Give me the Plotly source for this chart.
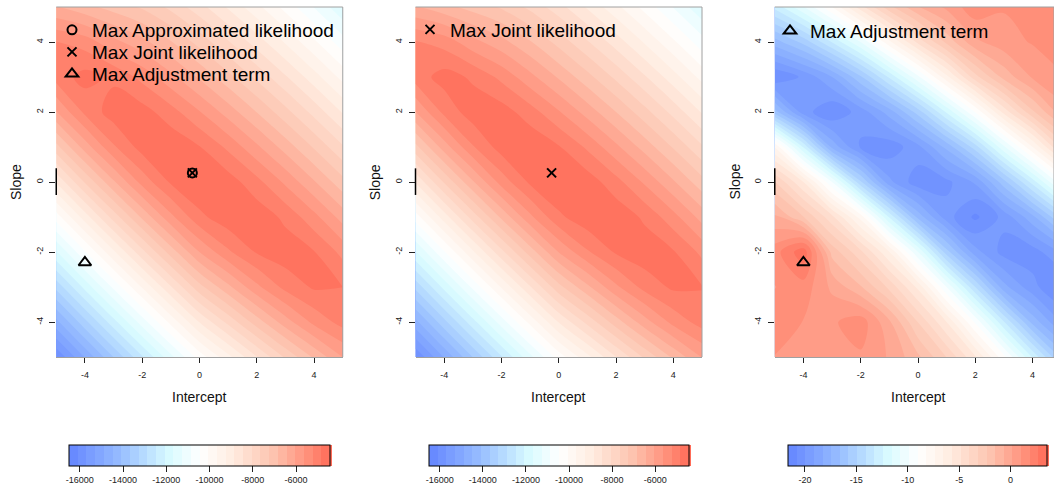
import numpy as np
import plotly.graph_objects as go

# Parameter grid (intercept along x, slope along y)
intercept = [-5, -4, -3, -2, -1, 0, 1, 2, 3, 4, 5]
slope = [-5, -4, -3, -2, -1, 0, 1, 2, 3, 4, 5]

# Joint log-likelihood surface; rows run from slope = -5 up to slope = 5
joint_loglik = [
    [-16063, -14859, -13679, -12523, -11391, -10283, -9380, -8465, -7574, -6761, -6015],
    [-14613, -13409, -12229, -11073, -9941, -8833, -7930, -7037, -6212, -5504, -5058],
    [-13163, -11959, -10779, -9623, -8491, -7383, -6536, -5721, -5087, -4756, -4810],
    [-11713, -10509, -9329, -8173, -7058, -6026, -5287, -4776, -4585, -4794, -5337],
    [-10263, -9059, -7879, -6764, -5733, -4918, -4553, -4545, -4908, -5488, -6196],
    [-8813, -7609, -6494, -5475, -4755, -4448, -4608, -5082, -5704, -6388, -7096],
    [-7376, -6248, -5277, -4641, -4496, -4794, -5308, -5944, -6604, -7288, -7996],
    [-6045, -5125, -4605, -4638, -5043, -5596, -6208, -6844, -7504, -8188, -8896],
    [-5043, -4663, -4896, -5344, -5908, -6496, -7108, -7744, -8404, -9088, -9796],
    [-5200, -5400, -5900, -6300, -6808, -7396, -8008, -8644, -9304, -9988, -10696],
    [-6400, -6700, -7000, -7300, -7750, -8296, -8908, -9544, -10204, -10888, -11596],
]

# Adjustment term surface; same row order
adjustment = [
    [1.0, 1.0, 1.0, 0.9, 0.1, -1.3, -3.2, -5.6, -8.8, -12.5, -16.0],
    [1.5, 1.0, 0.9, 1.5, -0.5, -3.2, -5.7, -9.2, -13.2, -16.9, -19.2],
    [1.0, 1.5, 0.0, -1.4, -3.4, -5.9, -9.9, -14.1, -18.0, -19.7, -20.9],
    [1.5, 3.3, -1.8, -3.8, -6.5, -10.7, -15.4, -18.8, -20.3, -20.4, -19.1],
    [-0.5, -2.3, -4.6, -7.7, -12.5, -16.9, -19.6, -21.0, -19.7, -17.7, -14.8],
    [-3.1, -5.7, -9.9, -14.8, -18.9, -20.5, -20.2, -19.0, -16.1, -12.9, -9.3],
    [-7.4, -12.5, -17.7, -20.1, -20.5, -19.4, -17.2, -14.5, -10.9, -7.4, -3.8],
    [-16.2, -19.6, -20.7, -19.6, -17.9, -15.4, -12.3, -9.0, -5.4, -2.5, -0.2],
    [-20.8, -19.8, -18.3, -15.9, -13.1, -10.1, -6.8, -3.5, -1.2, 0.3, 1.0],
    [-17.0, -15.5, -13.2, -10.7, -7.6, -4.6, -2.1, 0.0, 0.7, 1.1, 1.2],
    [-13.0, -10.8, -8.2, -5.2, -2.6, -0.7, 0.4, 1.6, 1.1, 1.2, 1.2],
]

# Approximated likelihood = joint likelihood + adjustment term
approx_loglik = (np.array(joint_loglik) + np.array(adjustment)).tolist()

# Locations of the maxima
max_approx = (-0.25, 0.26)
max_joint = (-0.25, 0.26)
max_adjust = (-4.0, -2.3)

# Colour-key limits and tick values
lik_levels = dict(start=-16500, end=-4430, size=(16500 - 4430) / 30)
adj_levels = dict(start=-21.65, end=3.55, size=(21.65 + 3.55) / 30)
lik_ticks = [-16000, -14000, -12000, -10000, -8000, -6000]
adj_ticks = [-20, -15, -10, -5, 0]
axis_ticks = [-4, -2, 0, 2, 4]

colorscale = [
    [0.0, "rgb(100,133,255)"],
    [0.2, "rgb(152,190,255)"],
    [0.38, "rgb(215,250,255)"],
    [0.5, "rgb(255,255,255)"],
    [0.62, "rgb(255,238,226)"],
    [0.78, "rgb(253,196,176)"],
    [0.9, "rgb(255,150,128)"],
    [1.0, "rgb(255,108,88)"],
]

W, H = 1054, 492
FONT = "Liberation Sans, Arial, Helvetica, sans-serif"
UNIT_X = 28.65              # pixels per intercept unit
PITCH = 359.25              # horizontal distance between panels
LEFT0 = 56.25               # pixel of intercept = -5 in first panel
TOP, BOTTOM = 7, 357        # pixel rows of slope = 5 / -5


def px(v):
    return v / W


def py(v):
    return 1 - v / H


def labels(vals):
    # plain hyphen-minus labels
    return [str(v) for v in vals]


fig = go.Figure()

panels = [
    dict(z=approx_loglik, levels=lik_levels, ticks=lik_ticks, cb=(69, 330)),
    dict(z=joint_loglik, levels=lik_levels, ticks=lik_ticks, cb=(429, 689)),
    dict(z=adjustment, levels=adj_levels, ticks=adj_ticks, cb=(788, 1047)),
]

for i, p in enumerate(panels):
    lv = p["levels"]
    fig.add_trace(go.Contour(
        x=intercept, y=slope, z=p["z"],
        xaxis=f"x{i + 1}" if i else "x", yaxis=f"y{i + 1}" if i else "y",
        autocontour=False,
        contours=dict(start=lv["start"], end=lv["end"], size=lv["size"],
                      coloring="fill", showlines=False),
        line=dict(width=0, smoothing=1.0),
        colorscale=colorscale, zmin=lv["start"], zmax=lv["end"],
        hoverinfo="skip",
        showlegend=False,
        colorbar=dict(
            orientation="h",
            x=px((p["cb"][0] + p["cb"][1]) / 2), xanchor="center",
            y=py(445), yanchor="top",
            len=p["cb"][1] - p["cb"][0], lenmode="pixels",
            thickness=21, thicknessmode="pixels",
            outlinewidth=1, outlinecolor="black",
            xpad=0, ypad=0,
            ticks="outside", ticklen=6, tickwidth=1, tickcolor="#222",
            tickvals=p["ticks"], ticktext=labels(p["ticks"]),
            tickfont=dict(size=9, color="#222", family=FONT),
        ),
    ))

marker_line = dict(width=2)
circle = dict(symbol="circle-open", size=9, color="black", line=marker_line)
cross = dict(symbol="x-thin-open", size=9, color="black", line=marker_line)
triangle = dict(symbol="triangle-up-open", size=11, color="black", line=marker_line)

# Panel 1 markers (one legend box per key row)
fig.add_trace(go.Scatter(
    x=[max_approx[0]], y=[max_approx[1]], mode="markers", name="Max Approximated likelihood",
    marker=circle, legend="legend", xaxis="x", yaxis="y", hoverinfo="skip"))
fig.add_trace(go.Scatter(
    x=[max_joint[0]], y=[max_joint[1]], mode="markers", name="Max Joint likelihood",
    marker=cross, legend="legend4", xaxis="x", yaxis="y", hoverinfo="skip"))
fig.add_trace(go.Scatter(
    x=[max_adjust[0]], y=[max_adjust[1]], mode="markers", name="Max Adjustment term",
    marker=triangle, legend="legend5", xaxis="x", yaxis="y", hoverinfo="skip"))
# Panel 2 marker
fig.add_trace(go.Scatter(
    x=[max_joint[0]], y=[max_joint[1]], mode="markers", name="Max Joint likelihood",
    marker=cross, legend="legend2", xaxis="x2", yaxis="y2", hoverinfo="skip"))
# Panel 3 marker
fig.add_trace(go.Scatter(
    x=[max_adjust[0]], y=[max_adjust[1]], mode="markers", name="Max Adjustment term",
    marker=triangle, legend="legend3", xaxis="x3", yaxis="y3", hoverinfo="skip"))

axis_common = dict(
    showgrid=False, zeroline=False,
    ticks="outside", ticklen=5, tickwidth=1, tickcolor="#222",
    tickfont=dict(size=9, color="#222", family=FONT),
    tickvals=axis_ticks, ticktext=labels(axis_ticks),
)

layout = dict(
    width=W, height=H,
    margin=dict(l=0, r=0, t=0, b=0),
    paper_bgcolor="white", plot_bgcolor="white",
    font=dict(family=FONT, color="black"),
    showlegend=True,
)

shapes = []
annotations = []
for i in range(3):
    left = LEFT0 + i * PITCH
    right = left + 10 * UNIT_X
    xr = [-5, 5]
    if right > W:
        xr = [-5, -5 + (W - left) / UNIT_X]
        right = W
    sx = "" if i == 0 else str(i + 1)
    layout[f"xaxis{sx}"] = dict(
        axis_common, domain=[px(left), px(right)], range=xr,
        anchor=f"y{sx}", showline=True, linecolor="#a0a0a0", linewidth=1,
        ticklabelstandoff=4,
    )
    layout[f"yaxis{sx}"] = dict(
        axis_common, domain=[py(BOTTOM), py(TOP)], range=[-5, 5],
        anchor=f"x{sx}", showline=False, tickangle=-90, ticklen=6,
        ticklabelstandoff=3,
    )
    xd, yd = f"x{sx} domain", f"y{sx} domain"
    # plot frame: top and right edges
    shapes.append(dict(type="line", xref=xd, yref=yd, x0=0, x1=1, y0=1, y1=1,
                       line=dict(color="#a0a0a0", width=1)))
    shapes.append(dict(type="line", xref=xd, yref=yd, x0=1, x1=1, y0=0, y1=1,
                       line=dict(color="#a0a0a0", width=1)))
    # short left axis segment around slope = 0
    shapes.append(dict(type="line", xref=xd, yref=f"y{sx}", x0=0, x1=0, y0=0.39, y1=-0.37,
                       line=dict(color="black", width=1.5)))
    x0px = 199.5 + i * PITCH
    annotations.append(dict(text="Intercept", x=px(x0px), y=py(396.5), xref="paper", yref="paper",
                            showarrow=False, xanchor="center", yanchor="middle",
                            font=dict(size=14, family=FONT, color="#111")))
    annotations.append(dict(text="Slope", x=px(16 + i * PITCH), y=py(182), xref="paper", yref="paper",
                            showarrow=False, xanchor="center", yanchor="middle", textangle=-90,
                            font=dict(size=14, family=FONT, color="#111")))

legend_common = dict(
    bgcolor="rgba(0,0,0,0)", borderwidth=0,
    font=dict(size=19, family=FONT, color="black"),
    xanchor="left", yanchor="top", tracegroupgap=0, itemwidth=30,
    visible=True,
)
layout["legend"] = dict(legend_common, x=px(52), y=py(11))
layout["legend4"] = dict(legend_common, x=px(52), y=py(33))
layout["legend5"] = dict(legend_common, x=px(52), y=py(55))
layout["legend2"] = dict(legend_common, x=px(52 + 358), y=py(10.5))
layout["legend3"] = dict(legend_common, x=px(52 + 718), y=py(12))
layout["shapes"] = shapes
layout["annotations"] = annotations

fig.update_layout(**layout)
fig.write_html("out.html")
